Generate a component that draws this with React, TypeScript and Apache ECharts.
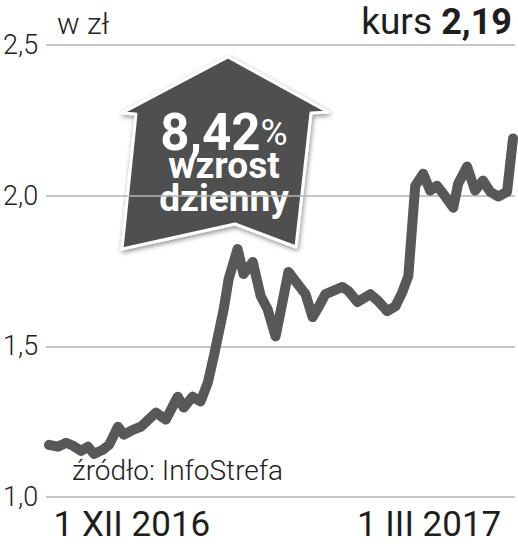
import React, { useEffect, useRef } from "react";
import * as echarts from "echarts";

// days relative to 1 XII 2016
const days = [
  -25.1, -22.4, -19.9, -17.8, -15.4, -13.3, -11.5, -8.8, -6.9, -4.2, -2.4, 0.3, 2.7, 7.3, 10.3, 13.9,
  15.7, 18.4, 20.8, 23.0, 24.8, 27.8, 29.3, 32.0, 33.8, 36.6, 39.0, 41.1, 43.5, 45.6, 47.4, 50.2,
  52.6, 54.7, 56.5, 58.6, 62.2, 63.7, 65.6, 68.3, 72.2, 74.6, 77.3, 79.8, 81.9, 83.7, 85.8, 88.2,
  90.3, 92.4, 94.9, 97.3, 98.8, 101.5, 103.9, 106.3, 108.5, 110.9, 113.6, 115.4,
];
const prices = [
  1.173, 1.167, 1.18, 1.17, 1.153, 1.167, 1.143, 1.157, 1.173, 1.233, 1.207, 1.223, 1.233, 1.28,
  1.257, 1.333, 1.297, 1.333, 1.317, 1.38, 1.467, 1.623, 1.723, 1.823, 1.74, 1.78, 1.667, 1.623,
  1.533, 1.647, 1.747, 1.707, 1.673, 1.597, 1.63, 1.673, 1.69, 1.697, 1.683, 1.647, 1.673, 1.65,
  1.617, 1.633, 1.68, 1.733, 2.033, 2.073, 2.017, 2.033, 1.997, 1.96, 2.04, 2.097, 2.017, 2.05,
  2.013, 1.997, 2.013, 2.19,
];
const dateTicks = [0, 90];
const dateLabels = ["1 XII 2016", "1 III 2017"];
const unitLabel = "w zł";
const courseLabel = "kurs";
const courseValue = "2,19";
const calloutPct = "8,42";
const calloutLines = ["wzrost", "dzienny"];
const sourceLabel = "źródło: InfoStrefa";

export default function App() {
  const ref = useRef<HTMLDivElement>(null);
  useEffect(() => {
    if (!ref.current) return;
    const chart = echarts.init(ref.current, null, { renderer: "svg" });
    const font = "Roboto, 'Noto Sans', sans-serif";
    chart.setOption({
      animation: false,
      backgroundColor: "#ffffff",
      grid: { left: 45, right: 3, top: 45, bottom: 52, containLabel: false },
      xAxis: {
        type: "value",
        min: -26,
        max: 116,
        axisLine: { show: false },
        axisTick: { show: false },
        splitLine: { show: false },
        axisLabel: {
          customValues: dateTicks,
          formatter: (v: number) => {
            const i = dateTicks.indexOf(Math.round(v));
            return i >= 0 ? dateLabels[i] : "";
          },
          fontFamily: font,
          fontSize: 35,
          color: "#1e1e1e",
          margin: 10,
        },
      },
      yAxis: {
        type: "value",
        min: 1,
        max: 2.5,
        interval: 0.5,
        axisLine: { show: false },
        axisTick: { show: false },
        splitLine: { show: true, lineStyle: { color: "#b3b3b3", width: 1.5 } },
        axisLabel: {
          formatter: (v: number) => v.toFixed(1).replace(".", ","),
          align: "left",
          margin: 43,
          fontFamily: font,
          fontWeight: 300,
          fontSize: 27,
          color: "#222",
        },
      },
      series: [
        {
          type: "line",
          data: days.map((d, i) => [d, prices[i]]),
          showSymbol: false,
          symbol: "none",
          clip: false,
          lineStyle: { color: "#585858", width: 10, cap: "round", join: "round" },
          z: 3,
        },
      ],
      graphic: [
        {
          type: "text",
          left: 57,
          top: 8,
          style: { text: unitLabel, fontFamily: font, fontWeight: 300, fontSize: 30, fill: "#222" },
        },
        {
          type: "text",
          right: 6,
          top: 3,
          style: {
            text: `{a|${courseLabel} }{b|${courseValue}}`,
            rich: {
              a: { fontFamily: font, fontSize: 37, fill: "#1e1e1e", fontWeight: 400 },
              b: { fontFamily: font, fontSize: 36, fill: "#1e1e1e", fontWeight: 700 },
            },
          },
        },
        {
          type: "text",
          left: 72,
          top: 456,
          z: 10,
          style: { text: sourceLabel, fontFamily: font, fontWeight: 300, fontSize: 28, fill: "#222" },
        },
        {
          type: "group",
          z: 20,
          children: [
            {
              type: "polygon",
              shape: {
                points: [
                  [228, 57],
                  [328, 112],
                  [311, 113],
                  [296, 247],
                  [235, 224],
                  [122, 249],
                  [136, 114],
                  [122, 113],
                ],
              },
              style: {
                fill: "#4f4f4f",
                stroke: "#ffffff",
                lineWidth: 3,
                lineJoin: "round",
                shadowBlur: 5,
                shadowColor: "rgba(0,0,0,0.45)",
                shadowOffsetX: 1,
                shadowOffsetY: 2,
              },
            },
            {
              type: "text",
              x: 224,
              y: 165,
              style: {
                text: `{a|${calloutPct}}{b|%}\n{c|${calloutLines[0]}}\n{c|${calloutLines[1]}}`,
                align: "center",
                verticalAlign: "middle",
                rich: {
                  a: { fontFamily: font, fontSize: 51, fontWeight: 700, fill: "#fff", lineHeight: 34 },
                  b: { fontFamily: font, fontSize: 37, fontWeight: 400, fill: "#fff", lineHeight: 34 },
                  c: { fontFamily: font, fontSize: 37, fontWeight: 700, fill: "#fff", lineHeight: 33 },
                },
              },
            },
          ],
        },
      ],
    });
    return () => chart.dispose();
  }, []);
  return <div ref={ref} style={{ width: 518, height: 549, position: "absolute", left: 0, top: 0 }} />;
}
